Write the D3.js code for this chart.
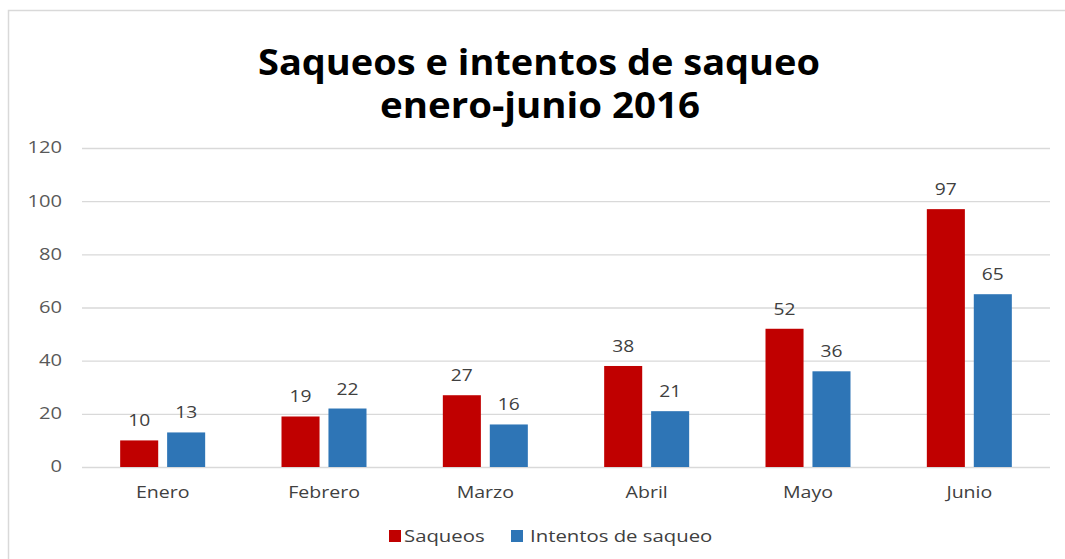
<!DOCTYPE html>
<html><head><meta charset="utf-8">
<script src="https://cdn.jsdelivr.net/npm/d3@7"></script>
<style>body{margin:0;background:#fff}svg{display:block}</style>
</head><body>
<script>
const categories = ["Enero","Febrero","Marzo","Abril","Mayo","Junio"];
const saqueos = [10,19,27,38,52,97];
const intentos = [13,22,16,21,36,65];
const seriesNames = ["Saqueos","Intentos de saqueo"];
const colors = ["#C00000","#2E75B6"];
const yTicks = [0,20,40,60,80,100,120];

(function(){
const W=1065,H=559;
const FONT="Open Sans, sans-serif";
function stretch(sel,f){
  sel.each(function(){
    const l=this.getComputedTextLength();
    d3.select(this).attr("textLength",l*f).attr("lengthAdjust","spacingAndGlyphs");
  });
}
const svg=d3.select("body").append("svg").attr("width",W).attr("height",H);
svg.append("rect").attr("width",W).attr("height",H).attr("fill","#fff");
svg.append("rect").attr("x",8.5).attr("y",10.5).attr("width",W+10).attr("height",H+10)
  .attr("fill","none").attr("stroke","#d9d9d9").attr("stroke-width",1.5);

const pLeft=82,pRight=1050,pTop=148,pBottom=467;
const x=d3.scaleBand().domain(categories).range([pLeft,pRight]);
const y=d3.scaleLinear().domain([0,120]).range([pBottom,pTop]);
const inner=d3.scaleBand().domain(seriesNames).range([-42.5,42.5]).paddingInner(0.19);

svg.append("g").selectAll("line").data(yTicks).join("line")
  .attr("x1",pLeft).attr("x2",pRight).attr("y1",d=>y(d)+0.5).attr("y2",d=>y(d)+0.5)
  .attr("stroke","#d9d9d9").attr("stroke-width",1.3);

const yAxis=d3.axisLeft(y).tickValues(yTicks).tickSize(0).tickPadding(0);
const gy=svg.append("g").attr("transform","translate(62,0)").call(yAxis);
gy.select(".domain").remove();
gy.selectAll("text").attr("font-family",FONT).attr("font-size",15.5).attr("fill","#595959");
stretch(gy.selectAll("text"),1.3);

const xAxis=d3.axisBottom(x).tickSize(0).tickPadding(0);
const gx=svg.append("g").attr("transform","translate(0,486)").call(xAxis);
gx.select(".domain").remove();
gx.selectAll("text").attr("font-family",FONT).attr("font-size",17).attr("fill","#404040");
stretch(gx.selectAll("text"),1.15);

const data=[saqueos,intentos];
seriesNames.forEach((s,si)=>{
  const g=svg.append("g");
  g.selectAll("rect").data(categories).join("rect")
    .attr("x",(c)=>x(c)+x.bandwidth()/2+inner(s))
    .attr("width",inner.bandwidth())
    .attr("y",(c,i)=>y(data[si][i]))
    .attr("height",(c,i)=>y(0)-y(data[si][i]))
    .attr("fill",colors[si]);
  const lbl=g.selectAll("text").data(categories).join("text")
    .attr("x",(c)=>x(c)+x.bandwidth()/2+inner(s)+inner.bandwidth()/2)
    .attr("y",(c,i)=>y(data[si][i])-14)
    .attr("text-anchor","middle")
    .attr("font-family",FONT).attr("font-size",16).attr("fill","#404040")
    .text((c,i)=>data[si][i]);
  stretch(lbl,1.2);
});

const t=svg.append("g").attr("font-family",FONT).attr("font-weight","bold").attr("font-size",35).attr("fill","#000");
t.append("text").attr("x",539).attr("y",75).attr("text-anchor","middle")
  .attr("textLength",562).attr("lengthAdjust","spacingAndGlyphs").text("Saqueos e intentos de saqueo");
t.append("text").attr("x",540).attr("y",118).attr("text-anchor","middle")
  .attr("textLength",320).attr("lengthAdjust","spacingAndGlyphs").text("enero-junio 2016");

const legX=[389,511];
const legTextX=[404,530];
const lg=svg.append("g");
seriesNames.forEach((s,i)=>{
  lg.append("rect").attr("x",legX[i]).attr("y",530).attr("width",12).attr("height",12).attr("fill",colors[i]);
  const tx=lg.append("text").attr("x",legTextX[i]).attr("y",542).attr("font-family",FONT)
    .attr("font-size",16).attr("fill","#404040").text(s);
  stretch(tx,1.27);
});
})();
</script>
</body></html>
